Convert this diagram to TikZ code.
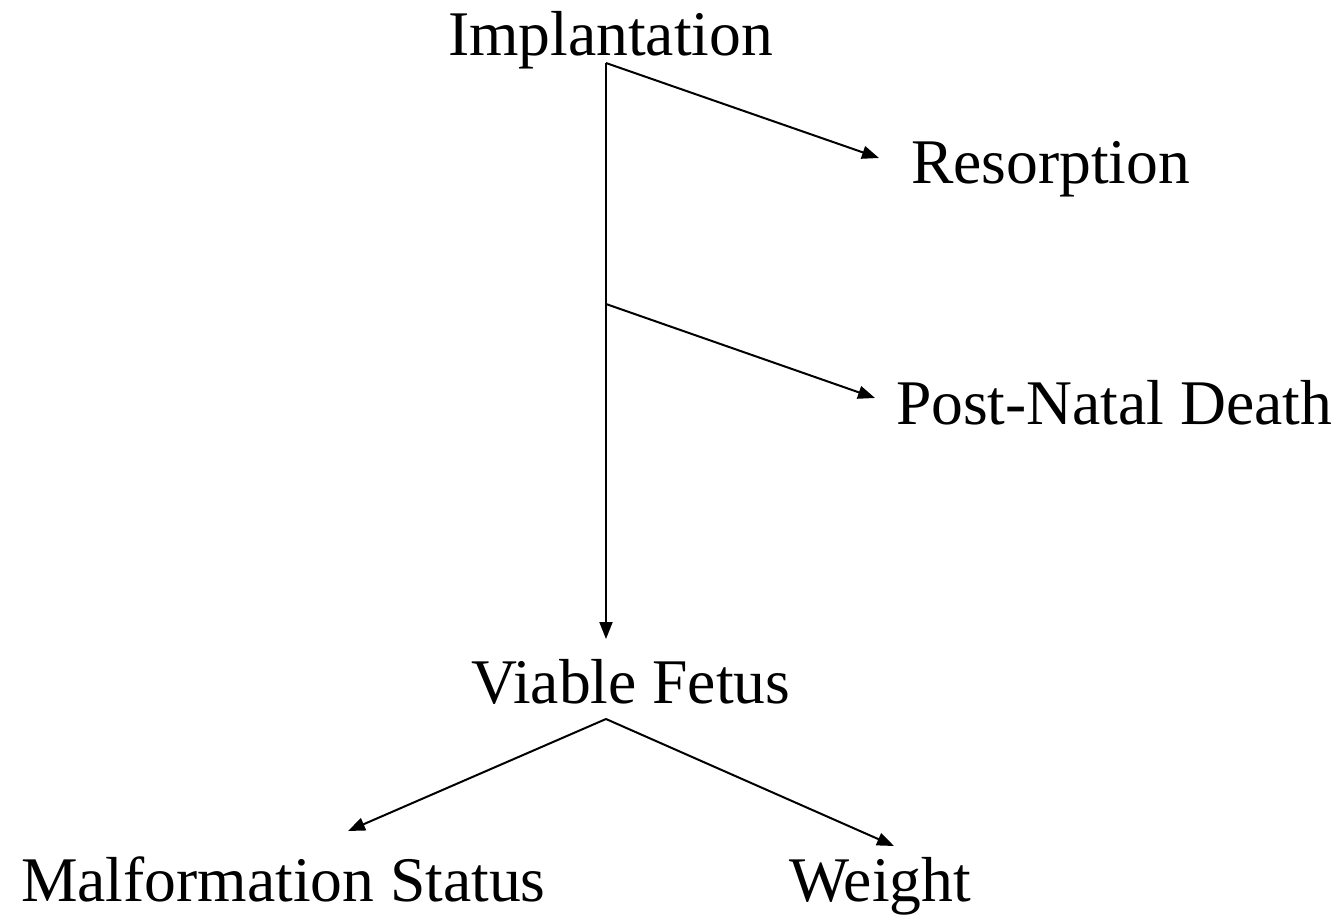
\documentclass[tikz,border=0pt]{standalone}
\usepackage{fontspec}
\setmainfont{Liberation Serif}
\usetikzlibrary{arrows.meta}
\begin{document}
\begin{tikzpicture}[x=1pt,y=-1pt,
  lbl/.style={inner sep=0pt,outer sep=0pt,anchor=base west,font=\fontsize{63.6}{76}\selectfont},
  conn/.style={line width=2pt,-{Triangle[length=17pt,width=13pt]}},
  plain/.style={line width=2pt}]
\useasboundingbox (0,0) rectangle (1342,915);
\node[lbl] (implant) at (448,56) {Implantation};
\node[lbl] (resorp) at (911,184) {Resorption};
\node[lbl] (pnd) at (896,424) {Post-Natal Death};
\node[lbl] (viable) at (471,703) {Viable Fetus};
\node[lbl] (malf) at (21,901) {Malformation Status};
\node[lbl] (weight) at (789,901) {Weight};
\coordinate (top) at (606,63);
\coordinate (mid) at (606,304);
\coordinate (vtop) at (606,719);
\coordinate (rtip) at (879,158);
\coordinate (ptip) at (875,398);
\coordinate (vtip) at (606,639);
\coordinate (mtip) at (348,831);
\coordinate (wtip) at (894,846);
\draw[plain] (top) -- (mid);
\draw[conn] (mid) -- (vtip);
\draw[conn] (top) -- (rtip);
\draw[conn] (mid) -- (ptip);
\draw[conn] (vtop) -- (mtip);
\draw[conn] (vtop) -- (wtip);
\end{tikzpicture}
\end{document}
